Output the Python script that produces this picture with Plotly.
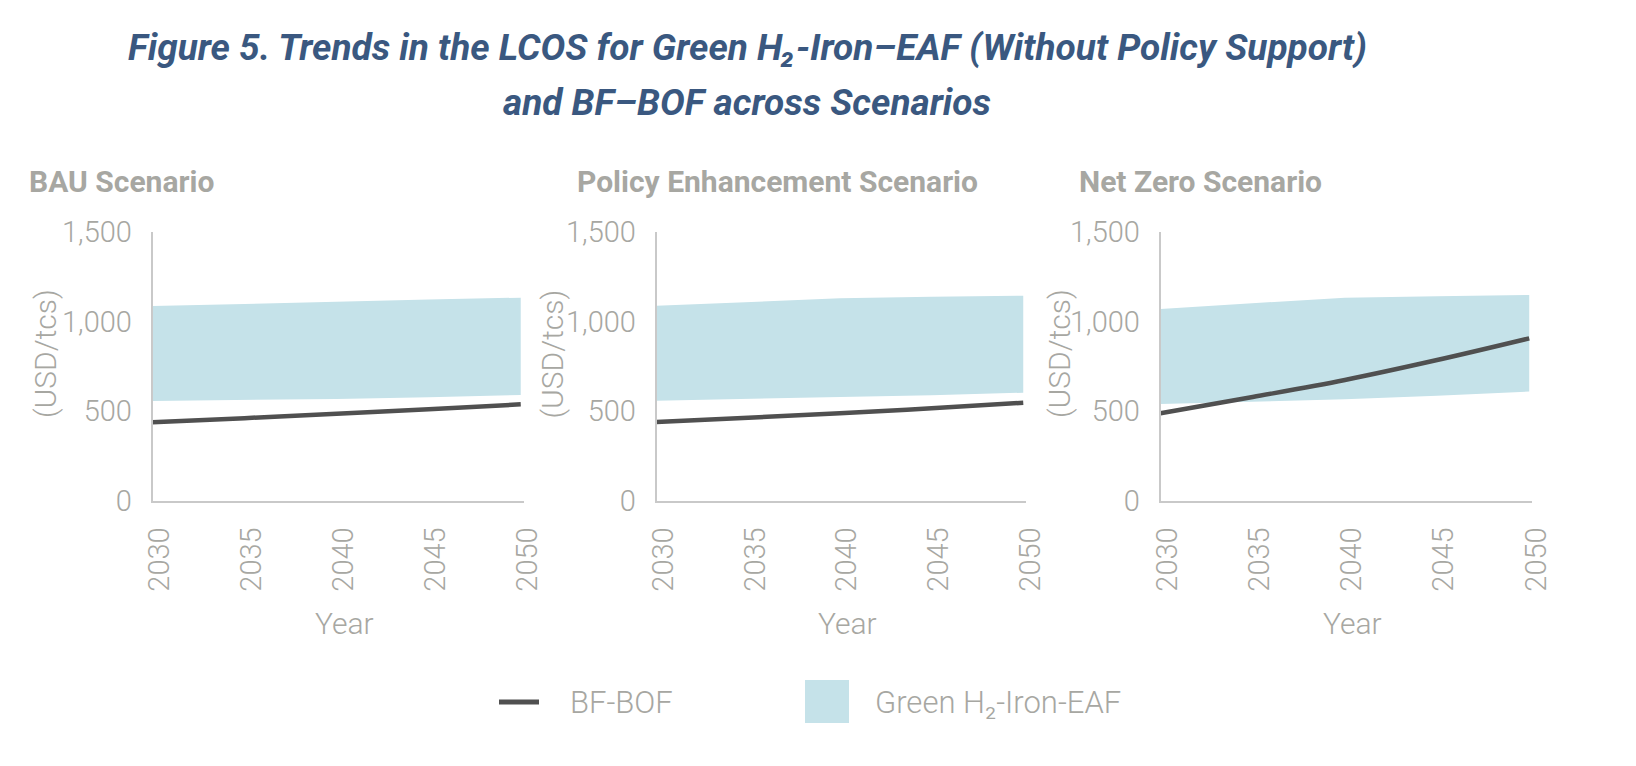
import plotly.graph_objects as go

W, H = 1636, 766

years = [2030, 2035, 2040, 2045, 2050]
scenarios = ["BAU Scenario", "Policy Enhancement Scenario", "Net Zero Scenario"]

bau_green_low = [558, 563, 569, 579, 591]
bau_green_high = [1087, 1100, 1112, 1123, 1134]
bau_bfbof = [439, 462, 487, 512, 539]

pe_green_low = [559, 568, 578, 590, 604]
pe_green_high = [1089, 1110, 1130, 1139, 1145]
pe_bfbof = [441, 464, 489, 517, 548]

nz_green_low = [541, 553, 567, 587, 610]
nz_green_high = [1071, 1102, 1134, 1142, 1149]
nz_bfbof = [489, 580, 675, 786, 907]

y_ticks = [0, 500, 1000, 1500]
x_ticks = [2030, 2035, 2040, 2045, 2050]

series = [
    (bau_green_low, bau_green_high, bau_bfbof),
    (pe_green_low, pe_green_high, pe_bfbof),
    (nz_green_low, nz_green_high, nz_bfbof),
]

GRAY = "#a7a7a2"
AXIS = "#c9c9c9"
BAND = "#c5e2e9"
LINE = "#505050"
TITLE = "#3a5880"
FONT = "Roboto"

# panel geometry in pixels (y-axis position, right end of x-axis line)
panels_px = [(152.5, 523.5), (656.5, 1026), (1160.5, 1532)]
y0_px, y1_px = 501, 232
sub_title_x = [27, 575, 1077]
ytitle_x = [45, 551.5, 1059]
year_x = [344, 847, 1352]

fig = go.Figure()

for i, (lo, hi, bf) in enumerate(series):
    xa = "x" if i == 0 else f"x{i+1}"
    ya = "y" if i == 0 else f"y{i+1}"
    fig.add_trace(go.Scatter(x=years, y=lo, mode="lines", line=dict(width=0, color=BAND),
                             xaxis=xa, yaxis=ya, showlegend=False, hoverinfo="skip"))
    fig.add_trace(go.Scatter(x=years, y=hi, mode="lines", line=dict(width=0, color=BAND),
                             fill="tonexty", fillcolor=BAND, xaxis=xa, yaxis=ya,
                             name="Green H₂-Iron-EAF", showlegend=False))
    fig.add_trace(go.Scatter(x=years, y=bf, mode="lines",
                             line=dict(width=4.5, color=LINE, shape="spline"),
                             xaxis=xa, yaxis=ya, name="BF-BOF", showlegend=False))

layout = dict(
    width=W, height=H,
    margin=dict(l=0, r=0, t=0, b=0, pad=0, autoexpand=False),
    paper_bgcolor="white", plot_bgcolor="white",
    showlegend=False,
    font=dict(family=FONT, color=GRAY),
)

tickfont = dict(family=FONT, size=29, color=GRAY, weight=300)
for i, (l, r) in enumerate(panels_px):
    sfx = "" if i == 0 else str(i + 1)
    layout[f"xaxis{sfx}"] = dict(
        domain=[l / W, r / W], range=[2030, 2050.15],
        tickvals=x_ticks, tickangle=-90, showgrid=False, zeroline=False,
        showline=True, linecolor=AXIS, linewidth=1.5, ticks="", automargin=False,
        tickfont=tickfont, ticklabelstandoff=13, ticklabelshift=7, anchor=f"y{sfx}",
    )
    layout[f"yaxis{sfx}"] = dict(
        domain=[1 - y0_px / H, 1 - y1_px / H], range=[0, 1500],
        tickvals=y_ticks, tickformat=",", showgrid=False, zeroline=False,
        showline=True, linecolor=AXIS, linewidth=1.5, ticks="", automargin=False,
        tickfont=tickfont, ticklabelstandoff=13, anchor=f"x{sfx}",
    )

fig.update_layout(**layout)

ann = []
# main title
ann.append(dict(text="<b><i>Figure 5. Trends in the LCOS for Green H₂-Iron–EAF (Without Policy Support)</i></b>",
                x=747 / W, y=1 - 47 / H, xref="paper", yref="paper", showarrow=False,
                xanchor="center", yanchor="middle", font=dict(family=FONT, size=37, color=TITLE)))
ann.append(dict(text="<b><i>and BF–BOF across Scenarios</i></b>",
                x=747 / W, y=1 - 103 / H, xref="paper", yref="paper", showarrow=False,
                xanchor="center", yanchor="middle", font=dict(family=FONT, size=37, color=TITLE)))
for i in range(3):
    ann.append(dict(text=f"<b>{scenarios[i]}</b>", x=sub_title_x[i] / W, y=1 - 182 / H,
                    xref="paper", yref="paper", showarrow=False, xanchor="left", yanchor="middle",
                    font=dict(family=FONT, size=30, color=GRAY)))
    ann.append(dict(text="(USD/tcs)", x=ytitle_x[i] / W, y=1 - 354 / H, textangle=-90,
                    xref="paper", yref="paper", showarrow=False, xanchor="center", yanchor="middle",
                    font=dict(family=FONT, size=30, color=GRAY, weight=300)))
    ann.append(dict(text="Year", x=year_x[i] / W, y=1 - 623 / H,
                    xref="paper", yref="paper", showarrow=False, xanchor="center", yanchor="middle",
                    font=dict(family=FONT, size=30, color=GRAY, weight=300)))
# legend
ann.append(dict(text="BF-BOF", x=568 / W, y=1 - 702 / H, xref="paper", yref="paper", showarrow=False,
                xanchor="left", yanchor="middle", font=dict(family=FONT, size=31, color=GRAY, weight=300)))
ann.append(dict(text="Green H₂-Iron-EAF", x=873 / W, y=1 - 702 / H, xref="paper", yref="paper",
                showarrow=False, xanchor="left", yanchor="middle",
                font=dict(family=FONT, size=31, color=GRAY, weight=300)))

shapes = [
    dict(type="line", xref="paper", yref="paper", x0=499 / W, x1=539 / W, y0=1 - 702 / H, y1=1 - 702 / H,
         line=dict(color=LINE, width=5)),
    dict(type="rect", xref="paper", yref="paper", x0=805 / W, x1=849 / W, y0=1 - 723 / H, y1=1 - 680 / H,
         fillcolor=BAND, line=dict(width=0)),
]

fig.update_layout(annotations=ann, shapes=shapes)
fig.write_html("out.html", config={"displayModeBar": False},
               post_script="document.body.style.margin='0';")
